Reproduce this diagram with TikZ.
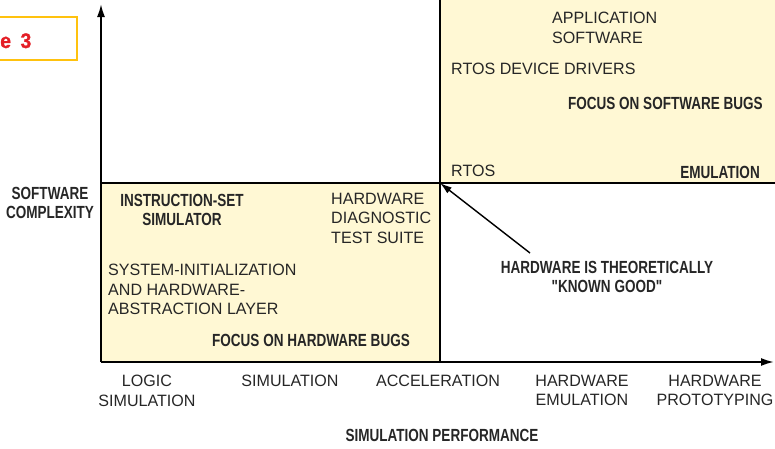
\documentclass[tikz,border=0pt]{standalone}
\usepackage{fontspec}
\usepackage{tikz}
\usetikzlibrary{arrows.meta}
\newfontfamily\lblfont[FakeStretch=0.98]{Liberation Sans}
\newfontfamily\headfont[FakeStretch=0.77]{Liberation Sans}
\newfontfamily\tagfont[FakeStretch=0.92,FakeBold=1.2]{Liberation Sans Bold}
\definecolor{boxfill}{HTML}{FFF8D4}
\definecolor{tagline}{HTML}{FFC20E}
\definecolor{tagred}{HTML}{E41E26}
\newcommand{\fillcol}{boxfill}
\newcommand{\txtcol}{black!85}

\begin{document}
\begin{tikzpicture}[x=0.03cm, y=-0.03cm,
    lbl/.style={inner sep=0pt, text=\txtcol, align=left,
      font=\lblfont\fontsize{14}{16.6}\selectfont},
    head/.style={inner sep=0pt, text=\txtcol, align=center,
      font=\headfont\bfseries\fontsize{15}{16.2}\selectfont},
    axis/.style={line width=1.6pt, -{Latex[length=3.9mm,width=2.4mm]}},
    edge/.style={line width=1.6pt},
    ptr/.style={line width=1.2pt, -{Latex[length=3.6mm,width=2.2mm]}}]

    \useasboundingbox (0,0) rectangle (775,449);

    % shaded regions
    \fill[\fillcol] (101,183) rectangle (440,362);
    \fill[\fillcol] (440,0) rectangle (775,183);

    % figure tag
    \draw[tagline, line width=2.4pt, fill=white] (-10,17) rectangle (77,60);
    \node[anchor=base west, inner sep=0pt, text=tagred,
      font=\tagfont\fontsize{18}{18}\selectfont]
      (tag) at (0,48) {e\hspace{0.45em}3};

    \coordinate (origin) at (101,362);
    \coordinate (ytip) at (101,4);
    \coordinate (xtip) at (774,362);
    \coordinate (corner) at (440,183);
    \coordinate (tail) at (530,253);

    % grid lines
    \draw[edge] (101,183) -- (775,183);
    \draw[edge] (440,0) -- (440,362);

    % axes
    \draw[axis] (origin) -- (ytip);
    \draw[axis] (origin) -- (xtip);

    % lower-left region
    \node[head, anchor=north] (iss) at (182,194) {INSTRUCTION-SET\\SIMULATOR};
    \node[lbl, anchor=north west] (diag) at (331,193) {HARDWARE\\DIAGNOSTIC\\TEST SUITE};
    \node[lbl, anchor=north west] (init) at (108,264) {SYSTEM-INITIALIZATION\\AND HARDWARE-\\ABSTRACTION LAYER};
    \node[head, anchor=north] (hwbugs) at (311,334) {FOCUS ON HARDWARE BUGS};

    % upper-right region
    \node[lbl, anchor=north west] (app) at (552,12) {APPLICATION\\SOFTWARE};
    \node[lbl, anchor=north west] (drv) at (451,63) {RTOS DEVICE DRIVERS};
    \node[head, anchor=north east] (swbugs) at (763,97) {FOCUS ON SOFTWARE BUGS};
    \node[lbl, anchor=north west] (rtos) at (451,165) {RTOS};
    \node[head, anchor=north east] (emu) at (760,166) {EMULATION};

    % known good
    \node[head, anchor=north] (good) at (607,261) {HARDWARE IS THEORETICALLY\\"KNOWN GOOD"};
    \draw[ptr] (tail) -- (corner);

    % axis labels
    \node[head, anchor=north] (ylab) at (50,187) {SOFTWARE\\COMPLEXITY};
    \node[head, anchor=north] (xlab) at (442,429) {SIMULATION PERFORMANCE};

    \node[lbl, align=center, anchor=north] (logic) at (147,375) {LOGIC\\SIMULATION};
    \node[lbl, align=center, anchor=north] (sim) at (290,375) {SIMULATION};
    \node[lbl, align=center, anchor=north] (accel) at (438,375) {ACCELERATION};
    \node[lbl, align=center, anchor=north] (hwemu) at (582,375) {HARDWARE\\EMULATION};
    \node[lbl, align=center, anchor=north] (proto) at (715,375) {HARDWARE\\PROTOTYPING};

\end{tikzpicture}
\end{document}
